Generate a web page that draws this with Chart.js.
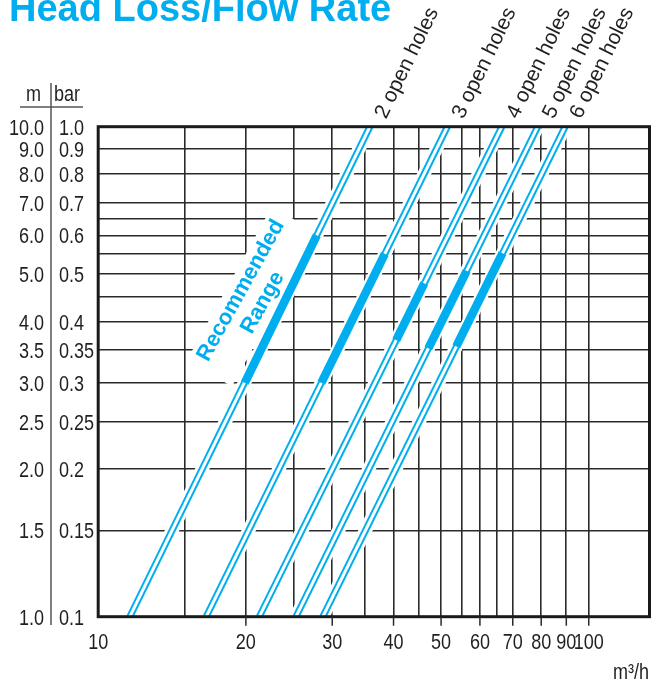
<!DOCTYPE html>
<html><head><meta charset="utf-8">
<script src="https://cdn.jsdelivr.net/npm/chart.js@4.4.1/dist/chart.umd.min.js"></script>
<style>html,body{margin:0;padding:0;background:#fff;overflow:hidden}#wrap{position:relative;width:651px;height:683px}</style>
</head><body><div id="wrap"><canvas id="c" width="651" height="683"></canvas></div>
<script>
// ---------- data ----------
const seriesNames = ['2 open holes', '3 open holes', '4 open holes', '5 open holes', '6 open holes'];
const headEnds = [1.0, 10.0];                          // m
const flowAtHead1 = [11.6, 16.6, 21.3, 25.3, 28.7];     // m3/h at 1.0 m
const flowAtHead10 = [35.8, 51.5, 66.5, 78.7, 89.5];    // m3/h at 10.0 m
const recLowHead = [3.0, 3.0, 3.67, 3.53, 3.56];
const recLowFlow = [19.9, 28.5, 40.5, 47.1, 53.7];
const recHighHead = [6.0, 5.5, 4.79, 5.08, 5.52];
const recHighFlow = [27.9, 38.4, 46.2, 56.4, 66.7];
const xGridValues = [10, 15, 20, 25, 30, 35, 40, 45, 50, 55, 60, 65, 70, 80, 90, 100];
const xTickLabels = [10, 20, 30, 40, 50, 60, 70, 80, 90, 100];
const yGridValues = [1, 1.5, 2, 2.5, 3, 3.5, 4, 4.5, 5, 5.5, 6, 6.5, 7, 8, 9, 10];
const yTickValues = [1, 1.5, 2, 2.5, 3, 3.5, 4, 5, 6, 7, 8, 9, 10];
const yTickLabelsM = ['1.0', '1.5', '2.0', '2.5', '3.0', '3.5', '4.0', '5.0', '6.0', '7.0', '8.0', '9.0', '10.0'];
const yTickLabelsBar = ['0.1', '0.15', '0.2', '0.25', '0.3', '0.35', '0.4', '0.5', '0.6', '0.7', '0.8', '0.9', '1.0'];
const titleText = 'Head Loss/Flow Rate';
const xUnit = 'm³/h';
const recText = ['Recommended', 'Range'];

// ---------- styles ----------
const BLUE = '#00AEEF';
const INK = '#231f20';
const GRID = '#2a2a2a';

const probe = document.createElement('canvas').getContext('2d');
function w(font) { probe.font = font; return probe.measureText('10.0 0.35 bar m/h').width; }
const HAS_NARROW = (w('22px "Liberation Sans Narrow", serif') !== w('22px serif')) &&
                   (w('22px "Liberation Sans Narrow", monospace') !== w('22px monospace'));

function ntext(ctx, s, x, y, size, align, baseline, color) {
  ctx.save();
  ctx.fillStyle = color; ctx.textBaseline = baseline; ctx.textAlign = align;
  if (HAS_NARROW) {
    ctx.font = size + 'px "Liberation Sans Narrow", sans-serif';
    ctx.fillText(s, x, y);
  } else {
    ctx.translate(x, y); ctx.scale(0.82, 1);
    ctx.font = size + 'px "Liberation Sans", Arial, sans-serif';
    ctx.fillText(s, 0, 0);
  }
  ctx.restore();
}

const datasets = [];
seriesNames.forEach((name, i) => {
  const line = [{x: flowAtHead1[i], y: headEnds[0]}, {x: flowAtHead10[i], y: headEnds[1]}];
  const rec = [{x: recLowFlow[i], y: recLowHead[i]}, {x: recHighFlow[i], y: recHighHead[i]}];
  const base = {showLine: true, pointRadius: 0, borderCapStyle: 'butt', clip: 0, tension: 0};
  datasets.push(Object.assign({label: name + ' halo', data: line, borderColor: '#fff', borderWidth: 13, order: 40}, base));
  datasets.push(Object.assign({label: name, data: line, borderColor: BLUE, borderWidth: 7, order: 30}, base));
  datasets.push(Object.assign({label: name + ' gap', data: line, borderColor: '#fff', borderWidth: 3, order: 20}, base));
  datasets.push(Object.assign({label: name + ' recommended', data: rec, borderColor: BLUE, borderWidth: 8.5, order: 10}, base));
});

const decor = {
  id: 'decor',
  beforeDatasetsDraw(chart) {
    const ctx = chart.ctx;
    const xs = chart.scales.x, ys = chart.scales.y;
    // Recommended Range label with white box, placed next to the 2-hole curve's band
    const cx = xs.getPixelForValue(recLowFlow[0]) + 7;
    const cy = ys.getPixelForValue(4.5);
    ctx.save();
    ctx.translate(cx, cy);
    ctx.rotate(-61 * Math.PI / 180);
    ctx.fillStyle = '#fff';
    ctx.fillRect(-88, -26, 176, 52);
    ctx.fillStyle = BLUE;
    ctx.font = 'bold 22px "Liberation Sans", Arial, sans-serif';
    ctx.textAlign = 'center'; ctx.textBaseline = 'middle';
    ctx.fillText(recText[0], 0, -12.5);
    ctx.fillText(recText[1], 0, 12.5);
    ctx.restore();
  },
  afterDraw(chart) {
    const ctx = chart.ctx;
    const a = chart.chartArea;
    const xs = chart.scales.x, ys = chart.scales.y;
    ctx.save();
    // frame
    ctx.strokeStyle = '#1a1a1a'; ctx.lineWidth = 3;
    ctx.strokeRect(a.left, a.top, a.right - a.left, a.bottom - a.top);
    // x tick marks + labels
    ctx.strokeStyle = GRID; ctx.lineWidth = 1.5;
    xTickLabels.forEach(v => {
      const px = xs.getPixelForValue(v);
      if (v !== xs.min) { ctx.beginPath(); ctx.moveTo(px, a.bottom); ctx.lineTo(px, a.bottom + 9); ctx.stroke(); }
      ntext(ctx, String(v), px, a.bottom + 32, 22, 'center', 'alphabetic', INK);
    });
    ntext(ctx, xUnit, 649, 679, 22, 'right', 'alphabetic', INK);
    // y labels
    yTickValues.forEach((v, k) => {
      const py = ys.getPixelForValue(v);
      ntext(ctx, yTickLabelsM[k], 44, py + 8, 22, 'right', 'alphabetic', INK);
      ntext(ctx, yTickLabelsBar[k], 59, py + 8, 22, 'left', 'alphabetic', INK);
    });
    ntext(ctx, 'm', 41, 101, 22, 'right', 'alphabetic', INK);
    ntext(ctx, 'bar', 54, 101, 22, 'left', 'alphabetic', INK);
    ctx.strokeStyle = '#555'; ctx.lineWidth = 1.5;
    ctx.beginPath(); ctx.moveTo(51, 83); ctx.lineTo(51, 625); ctx.stroke();
    ctx.beginPath(); ctx.moveTo(20, 107); ctx.lineTo(83, 107); ctx.stroke();
    // title
    ctx.fillStyle = BLUE; ctx.font = 'bold 38px "Liberation Sans", Arial, sans-serif';
    ctx.textAlign = 'left'; ctx.textBaseline = 'alphabetic';
    ctx.fillText(titleText, 9, 21);
    // series labels
    ctx.fillStyle = INK; ctx.font = '21px "Liberation Sans", Arial, sans-serif';
    seriesNames.forEach((name, i) => {
      const px = xs.getPixelForValue(flowAtHead10[i]) + 16;
      ctx.save();
      ctx.translate(px, a.top - 7);
      ctx.rotate(-64 * Math.PI / 180);
      ctx.fillText(name, 0, 0);
      ctx.restore();
    });
    ctx.restore();
  }
};

new Chart(document.getElementById('c'), {
  type: 'scatter',
  data: {datasets},
  options: {
    responsive: false, animation: false, devicePixelRatio: 1,
    layout: {padding: {top: 126.7, right: 1.5, left: 0, bottom: 0}},
    plugins: {legend: {display: false}, tooltip: {enabled: false}},
    scales: {
      x: {
        type: 'logarithmic', min: 10, max: 133,
        afterBuildTicks: s => { s.ticks = xGridValues.map(v => ({value: v})); },
        afterFit: s => { s.height = 66.3; },
        ticks: {display: false},
        grid: {color: GRID, lineWidth: 1.6, drawTicks: false},
        border: {display: false}
      },
      y: {
        type: 'logarithmic', min: 1, max: 10,
        afterBuildTicks: s => { s.ticks = yGridValues.map(v => ({value: v})); },
        afterFit: s => { s.width = 98.2; },
        ticks: {display: false},
        grid: {color: GRID, lineWidth: 1.6, drawTicks: false},
        border: {display: false}
      }
    }
  },
  plugins: [decor]
});
</script></body></html>
